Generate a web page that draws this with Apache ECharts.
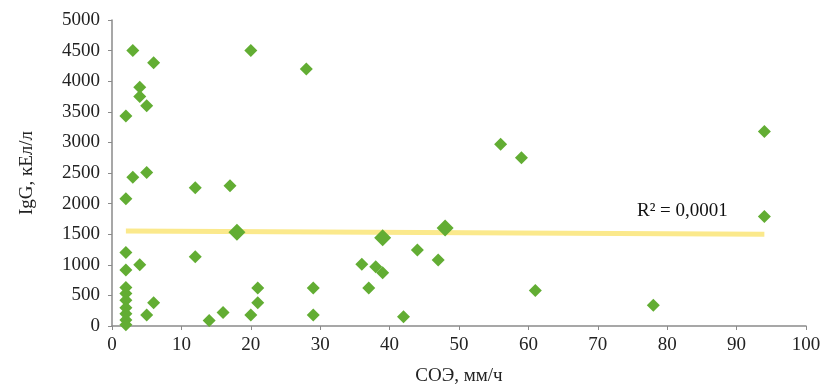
<!DOCTYPE html>
<html>
<head>
<meta charset="utf-8">
<script src="https://cdn.jsdelivr.net/npm/echarts@6/dist/echarts.min.js"></script>
<style>
  html, body { margin: 0; padding: 0; background: #fff; }
  #chart { width: 825px; height: 388px; }
</style>
</head>
<body>
<div id="chart"></div>
<script>
let dom = document.getElementById("chart")
let myChart = echarts.init(dom)

// СОЭ (мм/ч) / IgG (кЕл/л)
let soe = [2, 2, 2, 2, 2, 2, 2, 2, 2, 2, 2,
  3, 3, 4, 4, 4, 5, 5, 5, 6, 6,
  12, 12, 14, 16, 17, 20, 20, 21, 21, 28, 29, 29,
  36, 37, 38, 39, 42, 44, 47, 56, 59, 61, 78, 94, 94]
let igg = [3430, 2080, 1200, 915, 630, 530, 420, 300, 200, 100, 20,
  4500, 2430, 3900, 3750, 1000, 3600, 2510, 180, 4300, 380,
  2260, 1130, 90, 220, 2290, 4500, 180, 620, 380, 4200, 620, 180,
  1010, 620, 970, 870, 150, 1240, 1080, 2970, 2750, 580, 340, 3180, 1790]

// выделенные точки
let bigX = [18, 39, 48]
let bigY = [1530, 1440, 1600]

// линия тренда
let trendX = [2, 94]
let trendY = [1552, 1498]

let xTicks = ['0','10','20','30','40','50','60','70','80','90','100']

let serif = '"Liberation Serif", "DejaVu Serif", serif'
let green = '#62ad33'

let option = {
  animation: false,
  grid: {
    left: 112,
    right: 19,
    top: 20,
    bottom: 62,
    containLabel: false,
    outerBoundsMode: 'none'
  },
  xAxis: {
    type: 'value',
    min: 0,
    max: 100,
    interval: 10,
    name: 'СОЭ, мм/ч',
    nameLocation: 'middle',
    nameGap: 41,
    nameTextStyle: { fontFamily: serif, fontSize: 19, color: '#222' },
    splitLine: { show: false },
    axisLine: { lineStyle: { color: '#8a8a8a', width: 1.5 } },
    axisTick: { show: true, length: 4, lineStyle: { color: '#8a8a8a' } },
    axisLabel: {
      margin: 10,
      color: '#222',
      fontFamily: serif,
      fontSize: 19,
      formatter: function(value){
        return xTicks[Math.round(value / 10)]
      }
    }
  },
  yAxis: {
    type: 'value',
    min: 0,
    max: 5000,
    interval: 500,
    name: 'IgG, кЕл/л',
    nameLocation: 'middle',
    nameGap: 75,
    nameRotate: 90,
    nameTextStyle: { fontFamily: serif, fontSize: 19, color: '#222' },
    splitLine: { show: false },
    axisLine: { show: true, lineStyle: { color: '#8a8a8a', width: 1.5 } },
    axisTick: { show: true, length: 4, lineStyle: { color: '#8a8a8a' } },
    axisLabel: {
      margin: 12,
      color: '#222',
      fontFamily: serif,
      fontSize: 19,
      formatter: function(value){
        return String(value)
      }
    }
  },
  graphic: [{
    type: 'text',
    left: 637,
    top: 202,
    silent: true,
    style: {
      text: 'R² = 0,0001',
      fill: '#111',
      font: '19px ' + serif
    }
  }],
  series: [
    {
      name: 'trend',
      type: 'line',
      data: trendX.map((x, i) => [x, trendY[i]]),
      symbol: 'none',
      z: 1,
      lineStyle: { color: '#fbe98c', width: 5 }
    },
    {
      name: 'points',
      type: 'scatter',
      data: soe.map((x, i) => [x, igg[i]]),
      symbol: 'diamond',
      symbolSize: 13,
      z: 3,
      itemStyle: { color: green, opacity: 1 }
    },
    {
      name: 'big',
      type: 'scatter',
      data: bigX.map((x, i) => [x, bigY[i]]),
      symbol: 'diamond',
      symbolSize: 17,
      z: 4,
      itemStyle: { color: green, opacity: 1 }
    }
  ]
}

myChart.setOption(option, true);

window.addEventListener('resize', function(){
  myChart.resize();
})
</script>
</body>
</html>
